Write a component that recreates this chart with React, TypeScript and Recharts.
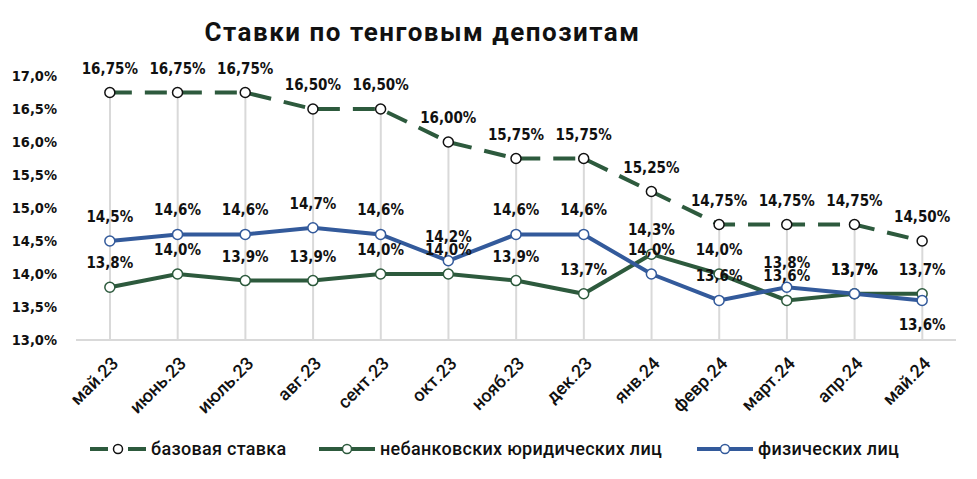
import React from "react";
import { ComposedChart, Line, Bar, XAxis, YAxis, LabelList } from "recharts";

const months = ["май.23", "июнь.23", "июль.23", "авг.23", "сент.23", "окт.23", "нояб.23", "дек.23", "янв.24", "февр.24", "март.24", "апр.24", "май.24"];
const baseRate = [16.75, 16.75, 16.75, 16.5, 16.5, 16.0, 15.75, 15.75, 15.25, 14.75, 14.75, 14.75, 14.5];
const legalRate = [13.8, 14.0, 13.9, 13.9, 14.0, 14.0, 13.9, 13.7, 14.3, 14.0, 13.6, 13.7, 13.7];
const retailRate = [14.5, 14.6, 14.6, 14.7, 14.6, 14.2, 14.6, 14.6, 14.0, 13.6, 13.8, 13.7, 13.6];
const yTicks = [13, 13.5, 14, 14.5, 15, 15.5, 16, 16.5, 17];
const axisMin = 13;

const GREEN = "#2d5a3d";
const BLUE = "#335a9b";
const GRID = "#d9d9d9";
const FONT = "Roboto, 'DejaVu Sans', sans-serif";
const NUMFONT = "'DejaVu Sans Condensed', 'DejaVu Sans', sans-serif";

const data = months.map((month, i) => ({
	month,
	base: baseRate[i],
	legal: legalRate[i],
	retail: retailRate[i],
	drop: [axisMin, baseRate[i]],
}));

const fmt = (v: number, d: number) => v.toFixed(d).replace(".", ",") + "%";

function makeLabel(decimals: number, belowIdx: number[] = []) {
	return (props: any) => {
		const { x, y, value, index } = props;
		const below = belowIdx.includes(index);
		return (
			<text
				x={x}
				y={below ? y + 25 : y - 24}
				textAnchor='middle'
				dominantBaseline='central'
				fontFamily={NUMFONT}
				fontWeight={700}
				fontSize={15}
				fill='#111'
			>
				{fmt(value, decimals)}
			</text>
		);
	};
}

const XTick = (props: any) => {
	const { x, y, payload } = props;
	const ax = x + 5;
	const ay = y + 12;
	return (
		<text
			x={ax}
			y={ay}
			textAnchor='end'
			transform={`rotate(-45, ${ax}, ${ay})`}
			fontFamily={FONT}
			fontWeight={500}
			fontSize={18}
			fill='#111'
			dominantBaseline='central'
		>
			{payload.value}
		</text>
	);
};

const YTick = (props: any) => {
	const { x, y, payload } = props;
	return (
		<text
			x={x}
			y={y}
			textAnchor='end'
			dominantBaseline='central'
			fontFamily={NUMFONT}
			fontWeight={700}
			fontSize={14.5}
			fill='#111'
		>
			{payload.value.toFixed(1).replace(".", ",") + "%"}
		</text>
	);
};

function LegendIcon({ color, dashed }: { color: string; dashed?: boolean }) {
	return (
		<svg width={60} height={14} style={{ marginRight: 3 }}>
			{dashed ? (
				<>
					<line x1={2} y1={7} x2={20} y2={7} stroke={color} strokeWidth={4} />
					<line x1={40} y1={7} x2={58} y2={7} stroke={color} strokeWidth={4} />
				</>
			) : (
				<line x1={2} y1={7} x2={58} y2={7} stroke={color} strokeWidth={4} />
			)}
			<circle cx={30} cy={7} r={4.5} fill='#fff' stroke={dashed ? "#111" : color} strokeWidth={1.5} />
		</svg>
	);
}

const legendItems = [
	{ name: "базовая ставка", color: GREEN, dashed: true, left: 88 },
	{ name: "небанковских юридических лиц", color: GREEN, left: 317 },
	{ name: "физических лиц", color: BLUE, left: 695 },
];

export default function App() {
	return (
		<div style={{ position: "absolute", left: 0, top: 0, width: 977, height: 479, background: "#fff", fontFamily: FONT }}>
			<div
				style={{
					position: "absolute",
					top: 17,
					left: 0,
					width: 845,
					textAlign: "center",
					fontSize: 26,
					fontWeight: 700,
					letterSpacing: 1.5,
					color: "#111",
				}}
			>
				Ставки по тенговым депозитам
			</div>
			<ComposedChart
				width={977}
				height={479}
				data={data}
				margin={{ top: 76, right: 21, left: 16, bottom: 69 }}
			>
				<XAxis
					dataKey='month'
					height={70}
					axisLine={{ stroke: GRID, strokeWidth: 2 }}
					tickLine={false}
					tick={<XTick />}
					interval={0}
				/>
				<YAxis
					width={60}
					domain={[13, 17]}
					ticks={yTicks}
					axisLine={false}
					tickLine={false}
					tickSize={0}
					tickMargin={19}
					tick={<YTick />}
				/>
				<Bar
					dataKey='drop'
					barSize={2}
					fill={GRID}
					isAnimationActive={false}
				/>
				<Line
					dataKey='base'
					stroke={GREEN}
					strokeWidth={4}
					strokeDasharray='22 13'
					dot={{ r: 5, fill: "#fff", stroke: "#111", strokeWidth: 1.5, strokeDasharray: "" }}
					isAnimationActive={false}
				>
					<LabelList dataKey='base' content={makeLabel(2)} />
				</Line>
				<Line
					dataKey='legal'
					stroke={GREEN}
					strokeWidth={4}
					dot={{ r: 5, fill: "#fff", stroke: GREEN, strokeWidth: 1.5 }}
					isAnimationActive={false}
				>
					<LabelList dataKey='legal' content={makeLabel(1)} />
				</Line>
				<Line
					dataKey='retail'
					stroke={BLUE}
					strokeWidth={4}
					dot={{ r: 5, fill: "#fff", stroke: BLUE, strokeWidth: 1.5 }}
					isAnimationActive={false}
				>
					<LabelList dataKey='retail' content={makeLabel(1, [12])} />
				</Line>
			</ComposedChart>
			{legendItems.map((it) => (
				<div
					key={it.name}
					style={{
						position: "absolute",
						top: 438,
						left: it.left,
						display: "flex",
						alignItems: "center",
						fontSize: 18,
						fontWeight: 500,
						letterSpacing: 0.3,
						color: "#111",
						whiteSpace: "nowrap",
					}}
				>
					<LegendIcon color={it.color} dashed={it.dashed} />
					<span>{it.name}</span>
				</div>
			))}
		</div>
	);
}
